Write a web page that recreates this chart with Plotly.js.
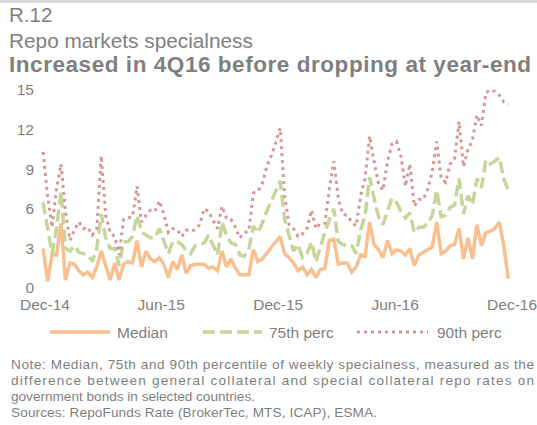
<!DOCTYPE html>
<html><head><meta charset="utf-8">
<script src="https://cdn.plot.ly/plotly-3.0.1.min.js"></script>
<style>html,body{margin:0;padding:0;background:#fff;overflow:hidden}#chart{width:537px;height:425px}</style>
</head><body><div id="chart"></div>
<script>
const firstWeek = '2014-11-28';
const median = [3.0,0.5,2.5,2.5,4.9,0.6,1.9,1.8,1.3,1.0,
  1.2,0.8,1.6,2.8,1.7,0.6,1.9,0.6,1.8,2.0,
  1.9,3.6,1.6,2.8,2.2,2.0,2.3,1.8,0.8,2.0,
  1.4,2.5,1.1,1.7,1.8,1.8,1.8,1.5,1.6,1.3,
  2.8,1.6,2.2,1.5,1.0,1.0,1.0,2.9,2.0,2.2,
  2.6,3.0,3.5,3.9,2.6,2.3,1.9,1.3,1.6,1.0,
  1.4,0.8,1.4,1.5,3.6,3.7,1.8,1.9,1.9,1.2,
  1.6,2.5,2.4,5.0,3.3,2.9,2.3,3.6,2.6,2.9,
  2.8,2.5,3.0,1.7,2.5,2.7,2.9,3.1,5.0,2.6,
  2.8,3.2,3.3,4.5,2.2,3.8,2.2,4.8,3.2,4.2,
  4.3,4.5,5.0,3.2,0.7];
const perc75 = [6.5,4.5,2.6,4.5,7.3,3.0,2.8,3.2,2.7,2.6,
  2.5,2.0,3.0,5.6,3.8,3.0,3.0,1.7,3.5,3.5,
  3.9,5.5,4.3,4.0,3.8,3.8,4.5,3.6,2.6,3.5,
  3.5,3.3,2.8,2.6,3.2,3.3,3.4,4.0,3.3,2.5,
  5.0,4.0,3.4,3.3,2.5,2.4,2.9,4.7,4.2,4.9,
  5.8,6.6,7.3,8.1,5.2,4.0,2.8,3.3,2.3,2.6,
  3.5,2.0,3.2,4.2,5.2,6.0,3.5,3.3,3.2,3.2,
  2.6,4.4,5.5,8.4,6.8,5.4,4.8,5.9,6.8,6.5,
  5.8,5.3,5.7,4.2,4.6,4.6,4.9,5.5,7.4,5.4,
  5.5,6.1,6.3,8.3,5.6,7.0,6.3,8.3,7.6,9.7,
  9.4,9.6,9.9,8.3,7.4];
const perc90 = [10.3,7.0,4.6,7.5,9.4,5.8,3.6,4.4,5.0,4.5,
  4.6,4.0,4.5,10.0,5.5,4.2,3.9,2.5,5.2,5.3,
  5.4,7.7,5.0,5.5,5.9,5.8,6.6,5.6,4.2,4.5,
  4.4,3.9,4.4,4.3,4.4,4.8,6.0,5.8,5.2,4.5,
  6.2,5.3,5.2,4.6,3.8,4.2,4.3,7.2,7.3,7.9,
  9.2,10.0,11.0,12.1,7.0,4.8,4.5,3.9,4.1,4.5,
  5.9,4.5,4.9,4.9,7.5,9.6,6.8,5.6,5.5,5.0,
  4.7,7.0,8.3,11.5,9.6,7.9,7.4,9.6,10.9,11.1,
  10.0,7.7,9.4,6.2,6.7,6.7,7.5,8.8,11.1,8.3,
  8.0,9.4,9.8,12.6,9.2,10.5,11.2,13.1,12.3,14.8,
  15.0,14.9,14.6,14.1,13.9];
const seriesNames = ['Median','75th perc','90th perc'];
const xTickVals = ['2014-12-01','2015-06-01','2015-12-01','2016-06-01','2016-12-01'];
const xTickText = ['Dec-14','Jun-15','Dec-15','Jun-16','Dec-16'];
const yTickVals = [0,3,6,9,12,15];
const chartLabel = 'R.12';
const chartTitle = 'Repo markets specialness';
const chartSubtitle = 'Increased in 4Q16 before dropping at year-end';
const noteLines = [
  'Note: Median, 75th and 90th percentile of weekly specialness, measured as the',
  'difference between general collateral and special collateral repo rates on',
  'government bonds in selected countries.',
  'Sources: RepoFunds Rate (BrokerTec, MTS, ICAP), ESMA.'
];

// ---- weekly dates ----
function weeklyDates(start, n){
  const out=[]; const d0=new Date(start+'T00:00:00Z');
  for(let i=0;i<n;i++){ const d=new Date(d0.getTime()+i*7*86400000); out.push(d.toISOString().slice(0,10)); }
  return out;
}
const dates = weeklyDates(firstWeek, median.length);

// ---- styling / layout ----
const FONT = 'Liberation Sans, Arial, sans-serif';
const GREY = '#7f7f7f';
const COLORS = ['#fabf8f','#c4d79b','#d99694'];
const W = 537, Hh = 425;
const L = 35, R = 0, T = 86, B = 137;
const PW = W - L - R, PH = Hh - T - B;
const PB = Hh - B;
const px = x => (x - L) / PW;
const py = y => (PB - y) / PH;

const traces = [
  {x: dates, y: median, name: seriesNames[0], type:'scatter', mode:'lines',
   line:{color:COLORS[0], width:3.5}},
  {x: dates, y: perc75, name: seriesNames[1], type:'scatter', mode:'lines',
   line:{color:COLORS[1], width:3.5, dash:'12px,5px'}},
  {x: dates, y: perc90, name: seriesNames[2], type:'scatter', mode:'lines',
   line:{color:COLORS[2], width:3, dash:'3px,4px'}}
];

const ann = [];
const stretch = []; // [plain text, target width px]
function text(t, x, y, size, width, plain){
  if(width) stretch.push([plain || t, width]);
  ann.push({text:t, xref:'paper', yref:'paper', x:px(x), y:py(y),
    xanchor:'left', yanchor:'middle', align:'left', showarrow:false,
    font:{family:FONT, size:size, color:GREY}});
}
text(chartLabel, 7, 15, 20.5);
text(chartTitle, 7, 40, 20.8);
text('<b>'+chartSubtitle+'</b>', 7, 64.5, 22.5, 522, chartSubtitle);
// legend
const legY = 332;
const legItems = [
  {x0:50, x1:110, tx:115, dash:'solid', w:3.5},
  {x0:203, x1:262, tx:267, dash:'12px,5px', w:3.5},
  {x0:357, x1:428, tx:435, dash:'3px,4px', w:3}
];
const shapes = [
  {type:'line', xref:'paper', yref:'paper', x0:px(0), x1:px(W), y0:py(1.5), y1:py(1.5),
   line:{color:'#d9d9d9', width:3}}
];
legItems.forEach((it,i)=>{
  shapes.push({type:'line', xref:'paper', yref:'paper', x0:px(it.x0), x1:px(it.x1), y0:py(legY), y1:py(legY),
    line:{color:COLORS[i], width:it.w, dash:it.dash}});
  text(seriesNames[i], it.tx, legY, 15.5);
});
// notes
const noteY = [364, 380, 396, 412];
const noteW = [523, 523, 244, 366];
noteLines.forEach((t,i)=>text(t, 9, noteY[i], 13.6, noteW[i]));

const layout = {
  width:W, height:Hh, margin:{l:L, r:R, t:T, b:B}, showlegend:false,
  paper_bgcolor:'#fff', plot_bgcolor:'#fff',
  font:{family:FONT, color:GREY},
  xaxis:{type:'date', range:['2014-11-15 08:00','2017-01-09'], tickvals:xTickVals, ticktext:xTickText,
    showgrid:false, zeroline:false, showline:false, ticks:'', ticklabelstandoff:5,
    ticklabeloverflow:'allow', tickfont:{size:15.5, color:GREY}},
  yaxis:{range:[0,15.3], tickvals:yTickVals, showgrid:false, zeroline:false, showline:false, ticks:'',
    tickfont:{size:15.5, color:GREY}},
  shapes:shapes, annotations:ann
};
function applyStretch(gd){
  gd.querySelectorAll('text.annotation-text').forEach(el=>{
    const s = stretch.find(p => p[0] === el.textContent.trim());
    if(s){ el.setAttribute('textLength', s[1]); el.setAttribute('lengthAdjust','spacing'); }
  });
}
Plotly.newPlot('chart', traces, layout, {staticPlot:true, displayModeBar:false}).then(gd=>{
  applyStretch(gd);
  setTimeout(()=>applyStretch(gd), 50);
});
</script></body></html>
